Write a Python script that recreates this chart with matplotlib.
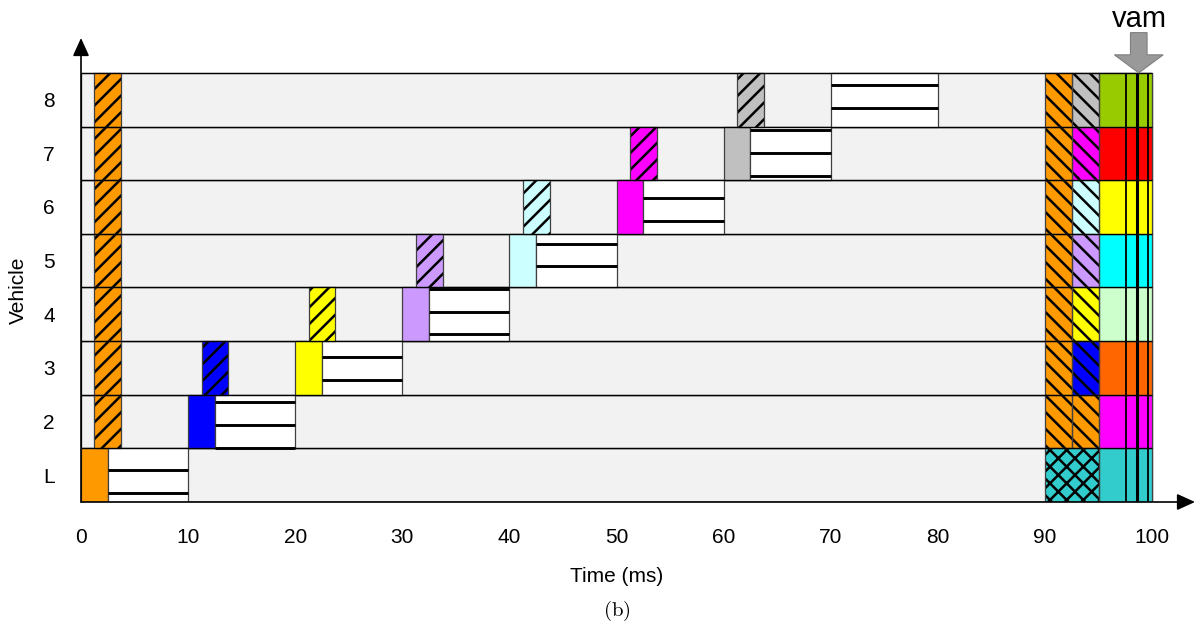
import matplotlib
matplotlib.use("Agg")
import matplotlib.pyplot as plt
from matplotlib.patches import Rectangle, FancyArrow
import numpy as np

plt.rcParams['font.family'] = ['Liberation Sans', 'DejaVu Sans']
plt.rcParams['hatch.linewidth'] = 1.8
plt.rcParams['mathtext.fontset'] = 'cm'

# ---------------- data ----------------
rows = ['L', '2', '3', '4', '5', '6', '7', '8']
xticks = [0, 10, 20, 30, 40, 50, 60, 70, 80, 90, 100]

# transmission (solid) blocks
tx_row = ['L', '2', '3', '4', '5', '6', '7']
tx_start = [0, 10, 20, 30, 40, 50, 60]
tx_end = [2.5, 12.5, 22.5, 32.5, 42.5, 52.5, 62.5]
tx_color = ['#FF9900', '#0000FF', '#FFFF00', '#CC99FF', '#CCFFFF', '#FF00FF', '#C0C0C0']

# processing (white, lined) blocks
proc_row = ['L', '2', '3', '4', '5', '6', '7', '8']
proc_start = [2.5, 12.5, 22.5, 32.5, 42.5, 52.5, 62.5, 70]
proc_end = [10, 20, 30, 40, 50, 60, 70, 80]

# reception of leader message (hatched)
lead_rx_row = ['2', '3', '4', '5', '6', '7', '8']
lead_rx_start = 1.25
lead_rx_end = 3.75
lead_color = '#FF9900'

# reception of predecessor message (hatched)
pred_rx_row = ['3', '4', '5', '6', '7', '8']
pred_rx_start = [11.25, 21.25, 31.25, 41.25, 51.25, 61.25]
pred_rx_end = [13.75, 23.75, 33.75, 43.75, 53.75, 63.75]
pred_rx_color = ['#0000FF', '#FFFF00', '#CC99FF', '#CCFFFF', '#FF00FF', '#C0C0C0']

# right part: beacons
b1_row = ['2', '3', '4', '5', '6', '7', '8']
b1_start, b1_end = 90, 92.5
b1_color = '#FF9900'
b2_row = ['2', '3', '4', '5', '6', '7', '8']
b2_start, b2_end = 92.5, 95
b2_color = ['#FF9900', '#0000FF', '#FFFF00', '#CC99FF', '#CCFFFF', '#FF00FF', '#C0C0C0']
lead_b_start, lead_b_end = 90, 95
lead_b_color = '#33CCCC'

final_start, final_end = 95, 100
final_color = ['#33CCCC', '#FF00FF', '#FF6600', '#CCFFCC', '#00FFFF', '#FFFF00', '#FF0000', '#99CC00']
vam_lines = [97.55, 98.55, 99.6]
vam_line_w = [1.3, 2.2, 1.3]
vam_x = 98.75

# ---------------- figure ----------------
W, H = 1195, 629
fig = plt.figure(figsize=(W / 100, H / 100), dpi=100)
ax = fig.add_axes([81 / W, 127 / H, 1114 / W, 464 / H])
ax.set_xlim(0, 104)
ax.set_ylim(0, 8.65)
for s in ax.spines.values():
    s.set_visible(False)

ridx = {r: i for i, r in enumerate(rows)}
EDGE = '#404040'

# row backgrounds
for i, r in enumerate(rows):
    ax.add_patch(Rectangle((0, i), 100, 1, facecolor='#F2F2F2', edgecolor='black', lw=0.9, zorder=1))


def solid(x0, x1, r, color):
    ax.add_patch(Rectangle((x0, ridx[r]), x1 - x0, 1, facecolor=color, edgecolor=EDGE, lw=0.9, zorder=2))


def hatched(x0, x1, r, color, hatch):
    ax.add_patch(Rectangle((x0, ridx[r]), x1 - x0, 1, facecolor=color, edgecolor='black', lw=0,
                           hatch=hatch, zorder=2))
    ax.add_patch(Rectangle((x0, ridx[r]), x1 - x0, 1, facecolor='none', edgecolor=EDGE, lw=0.9, zorder=3))


# horizontal line pattern for processing blocks
line_ys = 7.776 - 0.4225 * np.arange(0, 19)

for r, x0, x1, c in zip(tx_row, tx_start, tx_end, tx_color):
    solid(x0, x1, r, c)
for r, x0, x1 in zip(proc_row, proc_start, proc_end):
    solid(x0, x1, r, 'white')
    i = ridx[r]
    ys = [y for y in line_ys if i < y < i + 1]
    ax.hlines(ys, x0, x1, colors='black', lw=2.1, zorder=4)

for r in lead_rx_row:
    hatched(lead_rx_start, lead_rx_end, r, lead_color, '//')
for r, x0, x1, c in zip(pred_rx_row, pred_rx_start, pred_rx_end, pred_rx_color):
    hatched(x0, x1, r, c, '//')

for r in b1_row:
    hatched(b1_start, b1_end, r, b1_color, '\\\\')
for r, c in zip(b2_row, b2_color):
    hatched(b2_start, b2_end, r, c, '\\\\')
hatched(lead_b_start, lead_b_end, 'L', lead_b_color, 'xx')

for r, c in zip(rows, final_color):
    solid(final_start, final_end, r, c)
for x, w in zip(vam_lines, vam_line_w):
    ax.vlines(x, 0, len(rows), colors='black', lw=w, zorder=5)

# row separators on top
for i in range(len(rows) + 1):
    ax.hlines(i, 0, 100, colors='black', lw=0.9, zorder=4)

# axes arrows
arrow_style = '-|>,head_length=0.55,head_width=0.25'
ax.annotate('', xy=(104, 0), xytext=(0, 0), annotation_clip=False,
            arrowprops=dict(arrowstyle=arrow_style, mutation_scale=20, color='black', lw=1.2,
                            shrinkA=0, shrinkB=0), zorder=6)
ax.annotate('', xy=(0, 8.65), xytext=(0, 0), annotation_clip=False,
            arrowprops=dict(arrowstyle=arrow_style, mutation_scale=20, color='black', lw=1.2,
                            shrinkA=0, shrinkB=0), zorder=6)

# vam arrow
ax.add_patch(FancyArrow(vam_x, 8.75, 0, -0.75, width=1.55, head_width=4.55, head_length=0.336,
                        length_includes_head=True, facecolor='#999999', edgecolor='#7F7F7F',
                        lw=0.8, clip_on=False, zorder=6))
fig.text(1139 / W, 1 - 19 / H, 'vam', fontsize=21, ha='center', va='center')

# ticks
ax.set_xticks(xticks, [str(t) for t in xticks])
ax.set_yticks(np.arange(len(rows)) + 0.5, rows)
ax.tick_params(axis='x', length=0, pad=19, labelsize=15)
ax.tick_params(axis='y', length=0, pad=23, labelsize=15)
for lab in ax.get_yticklabels():
    lab.set_horizontalalignment('center')

fig.text(617 / W, 1 - 577 / H, 'Time (ms)', fontsize=15, ha='center', va='center')
fig.text(18 / W, 1 - 290 / H, 'Vehicle', fontsize=15, ha='center', va='center', rotation=90)
fig.text(617 / W, 1 - 611 / H, r'$\mathrm{(b)}$', fontsize=15, ha='center', va='center')

fig.savefig('out.png', dpi=100)
